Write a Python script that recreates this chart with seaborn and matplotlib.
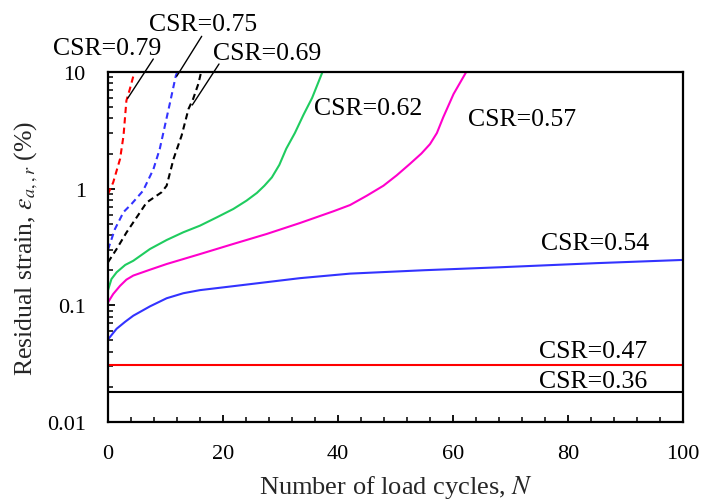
import numpy as np
import pandas as pd
import matplotlib
matplotlib.use("Agg")
import matplotlib.pyplot as plt
import seaborn as sns
from matplotlib.ticker import MultipleLocator, LogLocator, FixedLocator, FixedFormatter, NullFormatter

# ---------------- data ----------------
n_079 = [0, 0.9, 2.1, 2.7, 3.2, 3.8, 4.6]
e_079 = [0.9, 1.13, 1.8, 2.85, 5.68, 7.14, 10]

n_075 = [0, 1.2, 2.7, 4.1, 6.1, 7.9, 9.0, 9.9, 10.8, 11.8, 12.05]
e_075 = [0.30, 0.45, 0.63, 0.74, 0.96, 1.47, 2.19, 3.47, 5.5, 9.3, 10]

n_069 = [0, 1.5, 3.2, 5.6, 6.7, 9.3, 10.2, 11.4, 12.8, 14.0, 14.8, 15.7, 16.2]
e_069 = [0.234, 0.304, 0.42, 0.63, 0.76, 0.93, 1.06, 1.8, 2.85, 4.82, 5.87, 7.88, 10]

n_062 = [0, 0.6, 1.5, 3.0, 4.4, 7.3, 10.2, 13.1, 16, 18.9, 21.8, 24.1, 25.9,
         27.2, 28.5, 29.8, 31.0, 32.5, 34.0, 35.5, 37.3]
e_062 = [0.135, 0.168, 0.192, 0.222, 0.241, 0.304, 0.363, 0.423, 0.482, 0.567, 0.67, 0.79, 0.92,
         1.06, 1.25, 1.6, 2.2, 3.0, 4.3, 6.0, 10]

n_057 = [0, 0.9, 2.1, 3.2, 4.4, 7.3, 10.2, 16, 21.8, 27.6, 33.4, 39.2, 42.1, 45.0,
         47.9, 50.2, 52.5, 54.5, 56.0, 57.2, 58.3, 60.1, 62.3]
e_057 = [0.106, 0.125, 0.147, 0.166, 0.18, 0.202, 0.226, 0.275, 0.336, 0.409, 0.508, 0.64, 0.724, 0.87,
         1.06, 1.3, 1.63, 2.0, 2.41, 3.0, 4.09, 6.48, 10]

n_054 = [0, 1.5, 3.0, 4.4, 7.3, 10.2, 13.1, 16, 21.8, 27.6, 33.4, 42.1, 55, 68.2, 85, 100]
e_054 = [0.051, 0.063, 0.0724, 0.0815, 0.098, 0.115, 0.127, 0.135, 0.146, 0.158, 0.171, 0.187, 0.2, 0.212, 0.23, 0.245]

n_047 = [0, 100]
e_047 = [0.031, 0.031]

n_036 = [0, 100]
e_036 = [0.018, 0.018]

x_ticks = [0, 20, 40, 60, 80, 100]
y_ticks = [0.01, 0.1, 1, 10]
y_tick_labels = ["0.01", "0.1", "1", "10"]

# ---------------- style ----------------
sns.set_theme(style="ticks")
plt.rcParams["font.family"] = ["Liberation Serif", "DejaVu Serif"]
plt.rcParams["mathtext.fontset"] = "stix"

W, H = 701, 502
fig = plt.figure(figsize=(W / 100, H / 100), dpi=100)
ax = fig.add_axes([108 / W, 1 - 423 / H, (683 - 108) / W, (423 - 73) / H])

def fx(px):
    return px / W

def fy(py):
    return 1 - py / H

series = [
    (n_079, e_079, "#FF0000", True),
    (n_075, e_075, "#3333FF", True),
    (n_069, e_069, "#000000", True),
    (n_062, e_062, "#1FCC5F", False),
    (n_057, e_057, "#FF00CC", False),
    (n_054, e_054, "#3333FF", False),
    (n_047, e_047, "#FF0000", False),
    (n_036, e_036, "#000000", False),
]

for n, e, c, dashed in series:
    df = pd.DataFrame({"N": n, "eps": e})
    sns.lineplot(data=df, x="N", y="eps", ax=ax, color=c, linewidth=1.5,
                 sort=False, estimator=None)
    ax.lines[-1].set_solid_joinstyle("round")
    if dashed:
        ax.lines[-1].set_dashes((3, 2))

ax.set_yscale("log")
ax.set_xlim(0, 100)
ax.set_ylim(0.01, 10)

ax.xaxis.set_major_locator(FixedLocator(x_ticks))
ax.xaxis.set_minor_locator(MultipleLocator(4))
ax.yaxis.set_major_locator(FixedLocator(y_ticks))
ax.yaxis.set_major_formatter(FixedFormatter(y_tick_labels))
ax.yaxis.set_minor_locator(LogLocator(base=10, subs=np.arange(2, 10)))
ax.yaxis.set_minor_formatter(NullFormatter())

ax.tick_params(axis="both", which="both", direction="in", colors="black",
               labelsize=16, top=False, right=False)
ax.tick_params(axis="both", which="major", length=5, width=1.3, pad=16)
ax.tick_params(axis="both", which="minor", length=3.5, width=1.1)

for s in ax.spines.values():
    s.set_color("black")
    s.set_linewidth(1.6)

ax.set_xlabel(r"Number of load cycles, $N$", fontsize=19, labelpad=7)
ax.set_ylabel(r"Residual strain, $\varepsilon_{a,,r}$ (%)", fontsize=18.5, labelpad=5)

# ---------------- annotations ----------------
fs = 18.5
labels = [
    ("CSR=0.79", 107, 49),
    ("CSR=0.75", 203, 25),
    ("CSR=0.69", 267, 54),
    ("CSR=0.62", 368, 109),
    ("CSR=0.57", 522, 119.5),
    ("CSR=0.54", 595, 244),
    ("CSR=0.47", 593, 352),
    ("CSR=0.36", 593, 382),
]
for t, px, py in labels:
    fig.text(fx(px), fy(py), t, ha="center", va="center", fontsize=fs, color="black")

leaders = [
    ((153.3, 60), (127.7, 99.3)),
    ((201.7, 37.3), (176.7, 77.3)),
    ((219.0, 65.0), (192.3, 106.0)),
]
for (x0, y0), (x1, y1) in leaders:
    ax.annotate("", xy=(fx(x1), fy(y1)), xycoords="figure fraction",
                xytext=(fx(x0), fy(y0)), textcoords="figure fraction",
                arrowprops=dict(arrowstyle="-", color="black", lw=1.0,
                                shrinkA=0, shrinkB=0))

fig.savefig("out.png", dpi=100)
